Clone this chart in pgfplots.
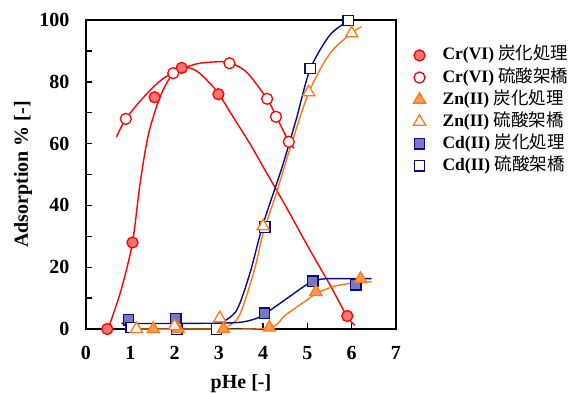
\documentclass[border=0pt]{standalone}
\usepackage{fontspec}
\setmainfont{Liberation Serif}
\newfontfamily\cjk{Noto Sans CJK JP}
\usepackage{pgfplots}
\pgfplotsset{compat=1.18}
\definecolor{cr}{RGB}{255,0,0}
\definecolor{zn}{RGB}{255,120,20}
\definecolor{cd}{RGB}{10,10,140}
\begin{document}
\begin{tikzpicture}
\path[use as bounding box] (-86pt,-63pt) rectangle (488pt,329pt);
\begin{axis}[
  name=ax,
  scale only axis, width=310pt, height=309pt,
  xmin=0, xmax=7, ymin=0, ymax=100,
  axis line style={line width=1.6pt},
  xtick={0,...,7}, ytick={0,20,...,100}, minor ytick={10,30,...,90},
  tick style={line width=1.4pt, black},
  major tick length=6pt, minor tick length=6pt,
  tick align=inside, xtick pos=bottom, ytick pos=left,
  /pgf/number format/assume math mode=true,
  ticklabel style={font=\bfseries\fontsize{20}{24}\selectfont},
  xticklabel style={yshift=-14pt},
  yticklabel style={xshift=-13pt},
  xlabel={pHe [-]},
  every axis x label/.style={at={(axis description cs:0.5,0)}, anchor=base, yshift=-59.5pt, font=\bfseries\fontsize{20}{24}\selectfont},
  legend cell align=left,
  legend style={draw=none, fill=none, at={(axis description cs:1.046,0.92)}, anchor=north west,
    font=\fontsize{17.5}{21}\selectfont, row sep=5.1pt, column sep=15pt,
    nodes={inner ysep=0pt, text height=13pt, text depth=4pt}},
  every axis plot/.append style={line width=1.4pt},
]
% legend images
\addlegendimage{only marks, mark=*, mark size=5.5pt, draw=cr, fill=cr!55, line width=1.3pt}
\addlegendentry{\textbf{Cr(VI)} {\cjk 炭化処理}}
\addlegendimage{only marks, mark=*, mark size=5.5pt, draw=cr, fill=white, line width=1.3pt}
\addlegendentry{\textbf{Cr(VI)} {\cjk 硫酸架橋}}
\addlegendimage{only marks, mark=triangle*, mark size=7pt, draw=zn, fill=zn!75, line width=1.3pt}
\addlegendentry{\textbf{Zn(II)} {\cjk 炭化処理}}
\addlegendimage{only marks, mark=triangle*, mark size=7pt, draw=zn, fill=white, line width=1.3pt}
\addlegendentry{\textbf{Zn(II)} {\cjk 硫酸架橋}}
\addlegendimage{only marks, mark=square*, mark size=5.2pt, draw=cd, fill=cd!55, line width=1.3pt}
\addlegendentry{\textbf{Cd(II)} {\cjk 炭化処理}}
\addlegendimage{only marks, mark=square*, mark size=5.2pt, draw=cd, fill=white, line width=1.3pt}
\addlegendentry{\textbf{Cd(II)} {\cjk 硫酸架橋}}
% fitted curves
\addplot[cr, smooth, tension=0.5, no marks, forget plot] coordinates {
 (0.5,0)(0.8,13)(1.05,28)(1.22,47)(1.41,63)(1.67,75)(1.93,82)(2.2,84.7)(2.5,83.5)(2.8,79.5)(3.0,76)(3.35,68)(3.7,60)(4.04,51.5)(4.5,40)(5.0,27)(5.5,14.5)(5.9,4)(6.07,1.2)};
\addplot[cr, smooth, tension=0.5, no marks, forget plot] coordinates {
 (0.69,62.2)(0.9,68)(1.3,75)(1.65,80)(1.97,83)(2.5,85.8)(3.0,86.5)(3.24,86.2)(3.5,84.5)(3.7,82)(4.09,74.5)(4.29,69)(4.58,60.6)(4.7,58.5)};
\addplot[zn, smooth, tension=0.5, no marks, forget plot] coordinates {
 (0.9,0)(2.5,0)(4.1,0.3)(4.5,4.5)(5.0,9.5)(5.2,11.5)(5.6,13.8)(6.0,14.8)(6.45,15.3)};
\addplot[zn, smooth, tension=0.5, no marks, forget plot] coordinates {
 (3.1,0.3)(3.45,4)(3.8,19)(4.0,31)(4.3,44)(4.62,59)(5.03,76.5)(5.5,89)(6.0,95.8)(6.22,97.8)};
\addplot[cd, smooth, tension=0.5, no marks, forget plot] coordinates {
 (0.8,1.8)(2.0,1.8)(3.0,1.9)(3.5,2.2)(3.8,3.2)(4.0,4.5)(4.5,9.5)(5.0,14.5)(5.3,16.1)(5.6,16.3)(6.45,16.3)};
\addplot[cd, smooth, tension=0.5, no marks, forget plot] coordinates {
 (3.05,2)(3.4,6)(3.7,18)(4.0,34)(4.42,52)(4.75,68)(5.06,84)(5.5,95)(5.9,99.5)(6.0,100)};
% markers
\addplot[only marks, mark=square*, mark size=5.2pt, draw=cd, fill=cd!55, line width=1.3pt, forget plot] coordinates {
 (0.96,3)(2.03,3.4)(4.03,5.1)(5.12,15.5)(6.09,14.3)};
\addplot[only marks, mark=square*, mark size=5.2pt, draw=cd, fill=white, line width=1.3pt, forget plot] coordinates {
 (1.02,0.5)(2.05,0)(2.95,0)(4.04,33)(5.06,84.3)(5.92,99.8)};
\addplot[only marks, mark=triangle*, mark size=7pt, draw=zn, fill=zn!75, line width=1.3pt, forget plot] coordinates {
 (1.52,0)(2.08,0)(3.1,0)(4.14,0.5)(5.19,12)(6.2,16.2)};
\addplot[only marks, mark=triangle*, mark size=7pt, draw=zn, fill=white, line width=1.3pt, forget plot] coordinates {
 (1.14,0)(2.0,1)(3.02,3.5)(4.0,33.3)(5.03,76.6)(6.0,95.7)};
\addplot[only marks, mark=*, mark size=5.5pt, draw=cr, fill=cr!55, line width=1.3pt, forget plot] coordinates {
 (0.48,0)(1.05,28)(1.55,75)(2.16,84.5)(2.99,76)(5.9,4.2)};
\addplot[only marks, mark=*, mark size=5.5pt, draw=cr, fill=white, line width=1.3pt, forget plot] coordinates {
 (0.9,68)(1.97,82.8)(3.24,86)(4.09,74.5)(4.29,68.7)(4.58,60.6)};
\end{axis}
\node[font=\bfseries\fontsize{20}{24}\selectfont, rotate=90, anchor=base] at ([xshift=-58pt]ax.west) {Adsorption \% [-]};
\end{tikzpicture}
\end{document}
